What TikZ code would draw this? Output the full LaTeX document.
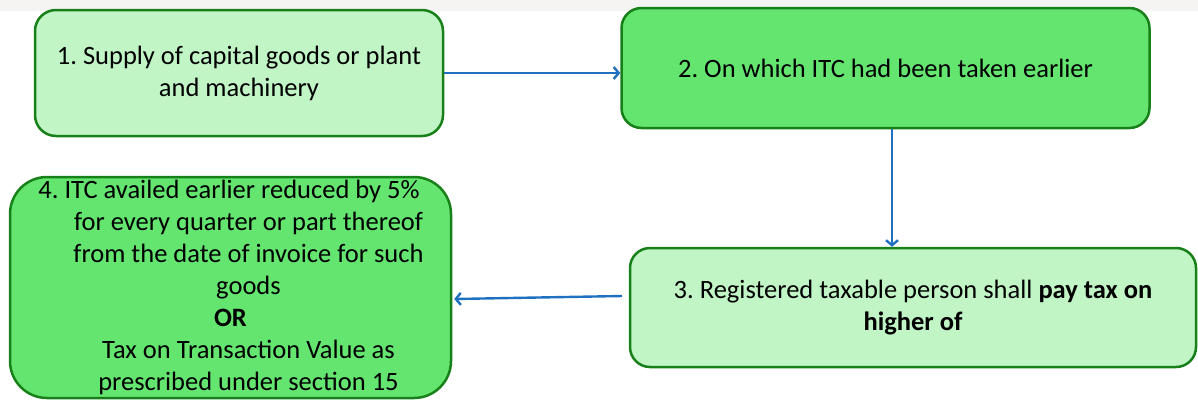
\documentclass[tikz,border=0pt]{standalone}
\usepackage{fontspec}
\setmainfont{Carlito}
\usetikzlibrary{arrows.meta}
\definecolor{lightfill}{RGB}{193,245,198}
\definecolor{darkfill}{RGB}{99,229,111}
\definecolor{boxline}{RGB}{24,128,24}
\definecolor{flow}{RGB}{31,112,193}
\definecolor{topband}{RGB}{246,243,243}
\frenchspacing
\tikzset{
  box/.style={draw=boxline, line width=2.5pt, align=center, inner sep=0pt,
    font=\fontsize{26.5}{32}\selectfont, text=black},
  light/.style={box, fill=lightfill},
  dark/.style={box, fill=darkfill},
  flowarrow/.style={draw=flow, line width=2.4pt,
    -{Straight Barb[length=5pt,width=12pt]}}
}
\begin{document}
\begin{tikzpicture}[x=1pt,y=-1pt]
  \useasboundingbox (0,0) rectangle (1198,400);
  \fill[topband] (0,0) rectangle (1198,11);

  % step boxes
  \node[light, rounded corners=21pt, minimum width=408pt, minimum height=126pt]
    (b1) at (239,73) {1. Supply of capital goods or plant\\and machinery};
  \node[dark, rounded corners=20pt, minimum width=528pt, minimum height=120pt]
    (b2) at (885.5,68) {2. On which ITC had been taken earlier};
  \node[light, rounded corners=20pt, minimum width=566pt, minimum height=119pt]
    (b3) at (913,307.5) {3. Registered taxable person shall \textbf{pay tax on}\\\textbf{higher of}};
  \node[dark, rounded corners=37pt, minimum width=441pt, minimum height=221pt]
    (b4) at (230.5,287.5) {\hspace*{-3pt}4. ITC availed earlier reduced by 5\%\\
      \hspace*{36pt}for every quarter or part thereof\\
      \hspace*{36pt}from the date of invoice for such\\
      \hspace*{36pt}goods\\
      \textbf{OR}\\
      \hspace*{36pt}Tax on Transaction Value as\\
      \hspace*{36pt}prescribed under section 15};

  % connectors
  \coordinate (a3) at (622,296);
  \draw[flowarrow] (b1.east) -- (b1.east -| b2.west);
  \draw[flowarrow] ([xshift=6.5pt]b2.south) -- ([xshift=6.5pt]b2.south |- b3.north);
  \draw[flowarrow] (a3) -- ([xshift=2pt,yshift=-11.5pt]b4.east);
\end{tikzpicture}
\end{document}
